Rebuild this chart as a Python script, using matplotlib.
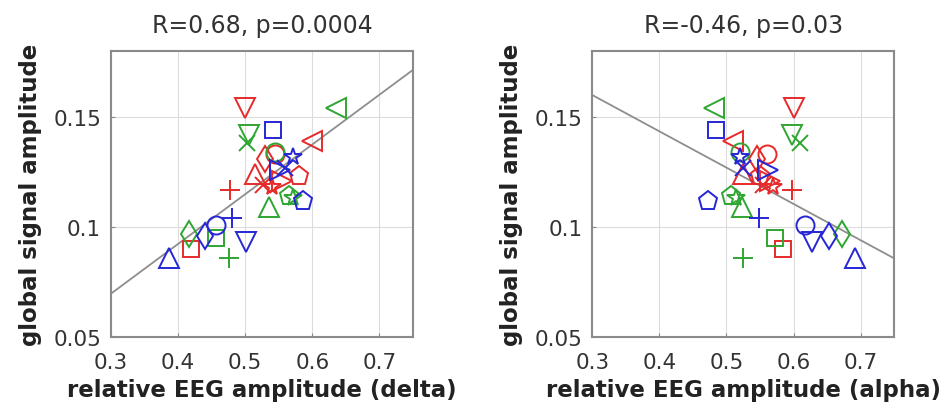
import matplotlib
matplotlib.use('Agg')
import matplotlib.pyplot as plt
import numpy as np

# one entry per subject/condition: colour, marker, delta amp, alpha amp, global signal amp
colors = ['r'] * 11 + ['g'] * 10 + ['b'] * 10
markers = ['v', '<', 'o', 'p', '+', '^', 'x', 's', 'd', '>', '*',
           '<', 'v', 'x', 'o', '^', 'p', '*', 's', '+', 'd',
           's', '*', 'p', '+', 'v', 'o', 'd', '^', 'x', '>']
delta = [0.500, 0.600, 0.545, 0.580, 0.478, 0.515, 0.527, 0.420, 0.530, 0.555, 0.540,
         0.636, 0.506, 0.503, 0.545, 0.536, 0.566, 0.572, 0.456, 0.476, 0.416,
         0.541, 0.571, 0.586, 0.480, 0.501, 0.456, 0.440, 0.386, 0.560, 0.552]
alpha = [0.600, 0.510, 0.560, 0.550, 0.598, 0.525, 0.555, 0.585, 0.545, 0.565, 0.570,
         0.482, 0.598, 0.610, 0.520, 0.523, 0.507, 0.515, 0.572, 0.525, 0.673,
         0.485, 0.520, 0.472, 0.548, 0.628, 0.617, 0.653, 0.692, 0.525, 0.562]
gsa = [0.154, 0.139, 0.133, 0.123, 0.117, 0.124, 0.119, 0.090, 0.131, 0.121, 0.118,
       0.154, 0.142, 0.138, 0.134, 0.109, 0.114, 0.113, 0.095, 0.086, 0.097,
       0.144, 0.132, 0.112, 0.104, 0.093, 0.101, 0.096, 0.086, 0.127, 0.126]

# fitted lines (slope, intercept)
fit_delta = (0.226, 0.0019)
fit_alpha = (-0.165, 0.2095)

titles = ['R=0.68, p=0.0004', 'R=-0.46, p=0.03']
xlabels = ['relative EEG amplitude (delta)', 'relative EEG amplitude (alpha)']

col_map = {'r': '#e62a2a', 'g': '#2fa532', 'b': '#2626d6'}
# matlab triangles look bigger than the other symbols
msize = {'v': 15, '^': 15, '<': 15, '>': 15, 'o': 13, 's': 12, 'd': 13,
         'p': 14, '*': 13, '+': 14, 'x': 12}

fig = plt.figure(figsize=(9.46, 4.10), dpi=100)
axes = [fig.add_axes([0.1173, 0.1756, 0.3192, 0.6976]),
        fig.add_axes([0.626, 0.1756, 0.3192, 0.6976])]

for ax, xs, fit, title, xl in zip(axes, [delta, alpha], [fit_delta, fit_alpha], titles, xlabels):
    ax.set_xlim(0.3, 0.75)
    ax.set_ylim(0.05, 0.18)
    ax.grid(True, color='#dcdcdc', linewidth=0.8)
    ax.set_axisbelow(True)
    lx = np.array([0.3, 0.75])
    ax.plot(lx, fit[0] * lx + fit[1], color='#8e8e8e', linewidth=1.3, zorder=1)
    for c, m, x, y in zip(colors, markers, xs, gsa):
        ax.plot(x, y, linestyle='none', marker=m, markersize=msize[m], markerfacecolor='none',
                markeredgecolor=col_map[c], markeredgewidth=1.4, zorder=3)
    ax.set_xticks([0.3, 0.4, 0.5, 0.6, 0.7])
    ax.set_xticklabels(['0.3', '0.4', '0.5', '0.6', '0.7'])
    ax.set_yticks([0.05, 0.1, 0.15])
    ax.set_yticklabels(['0.05', '0.1', '0.15'])
    ax.tick_params(direction='in', length=3, color='#888888', labelcolor='#333333',
                   labelsize=15.5)
    ax.tick_params(axis='x', pad=11)
    ax.tick_params(axis='y', pad=7)
    for s in ax.spines.values():
        s.set_color('#8a8a8a')
        s.set_linewidth(1.5)
    ax.set_title(title, fontsize=17, color='#333333', pad=14)
    ax.set_xlabel(xl, fontsize=16.5, fontweight='bold', color='#222222', labelpad=4)
    ax.set_ylabel('global signal amplitude', fontsize=16.5, fontweight='bold', color='#222222',
                  labelpad=8)

fig.savefig('out.png', dpi=100)
